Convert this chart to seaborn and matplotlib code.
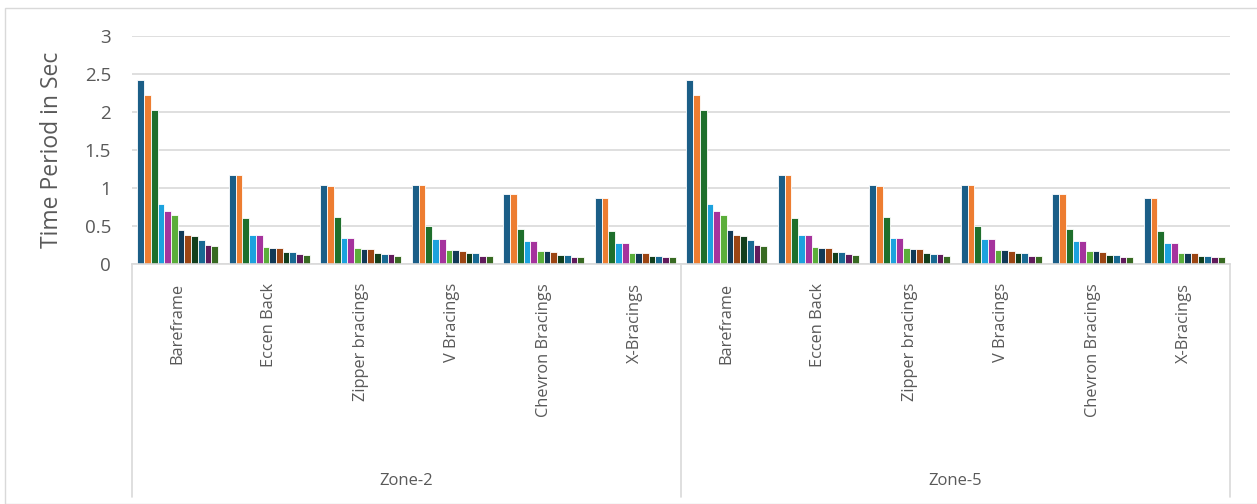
import matplotlib
matplotlib.use("Agg")
import matplotlib.pyplot as plt
import seaborn as sns
import pandas as pd
from matplotlib.patches import Rectangle
from matplotlib.lines import Line2D

zones = ["Zone-2", "Zone-5"]
systems = ["Bareframe", "Eccen Back", "Zipper bracings", "V Bracings", "Chevron Bracings", "X-Bracings"]
modes = [f"Mode {i}" for i in range(1, 13)]

bareframe = [2.42, 2.23, 2.02, 0.79, 0.70, 0.65, 0.45, 0.38, 0.37, 0.31, 0.25, 0.24]
eccen_back = [1.17, 1.17, 0.61, 0.38, 0.38, 0.22, 0.215, 0.205, 0.16, 0.16, 0.13, 0.12]
zipper = [1.04, 1.03, 0.625, 0.345, 0.345, 0.21, 0.195, 0.195, 0.145, 0.135, 0.13, 0.11]
v_brace = [1.04, 1.04, 0.50, 0.33, 0.33, 0.19, 0.19, 0.175, 0.14, 0.14, 0.11, 0.11]
chevron = [0.92, 0.92, 0.46, 0.30, 0.30, 0.17, 0.17, 0.157, 0.12, 0.12, 0.095, 0.095]
x_brace = [0.87, 0.87, 0.43, 0.275, 0.275, 0.15, 0.15, 0.145, 0.11, 0.11, 0.09, 0.09]
zone2_values = [bareframe, eccen_back, zipper, v_brace, chevron, x_brace]
zone5_values = [bareframe, eccen_back, zipper, v_brace, chevron, x_brace]

colors = ["#1B5E87", "#ED7D31", "#1E6F2C", "#1CA2DE", "#A5339D", "#5BAE3A",
          "#113A57", "#9C4513", "#123F1C", "#186A93", "#621B5C", "#386A22"]

rows = []
order = []
for z, zvals in zip(zones, [zone2_values, zone5_values]):
    for s, vals in zip(systems, zvals):
        key = f"{z}|{s}"
        order.append(key)
        for m, v in zip(modes, vals):
            rows.append({"cat": key, "mode": m, "val": v})
df = pd.DataFrame(rows)

sns.set_theme(style="white")
plt.rcParams["font.family"] = ["Open Sans", "DejaVu Sans"]

W, H = 1257, 504
fig = plt.figure(figsize=(W / 100, H / 100), dpi=100)
ax = fig.add_axes([132 / W, 1 - 264 / H, (1230 - 132) / W, (264 - 36) / H])

sns.barplot(data=df, x="cat", y="val", hue="mode", order=order, hue_order=modes,
            palette=colors, saturation=1, width=0.885, edgecolor="white", linewidth=0.6,
            legend=False, ax=ax, errorbar=None)

ax.set_ylim(0, 3)
ax.set_xlim(-0.5, len(order) - 0.5)
yt = [0, 0.5, 1, 1.5, 2, 2.5, 3]
ax.set_yticks(yt)
ax.set_yticklabels(["0", "0.5", "1", "1.5", "2", "2.5", "3"], color="#595959", fontsize=13.5)
ax.tick_params(axis="y", length=0, pad=15)
ax.set_xticks([])
ax.set_xlabel("")
ax.set_ylabel("")
ax.yaxis.grid(True, color="#D9D9D9", linewidth=1.2)
ax.set_axisbelow(True)
for sp in ["left", "right", "top"]:
    ax.spines[sp].set_visible(False)
ax.spines["bottom"].set_color("#D9D9D9")
ax.spines["bottom"].set_linewidth(1.2)

fig.text(52 / W, 1 - 150 / H, "Time Period in Sec", rotation=90, ha="center", va="center",
         color="#595959", fontsize=16.5)

trans = ax.get_xaxis_transform()
for i, key in enumerate(order):
    name = key.split("|")[1]
    ax.text(i, -(283 - 264) / 228, name, rotation=90, ha="center", va="top",
            transform=trans, color="#595959", fontsize=11.8, clip_on=False)

for zi, z in enumerate(zones):
    xc = zi * 6 + 2.5
    ax.text(xc, -(481 - 264) / 228, z, ha="center", va="center", transform=trans,
            color="#595959", fontsize=12, clip_on=False)

for xb in [-0.5, 5.5, 11.5]:
    ax.add_line(Line2D([xb, xb], [0, -(497 - 264) / 228], transform=trans,
                       color="#D9D9D9", linewidth=1.2, clip_on=False))

fig.patches.append(Rectangle((5 / W, 0), 1.2, 1 - 8 / H, transform=fig.transFigure,
                             fill=False, edgecolor="#D9D9D9", linewidth=1.0))

fig.savefig("out.png", dpi=100, facecolor="white")
